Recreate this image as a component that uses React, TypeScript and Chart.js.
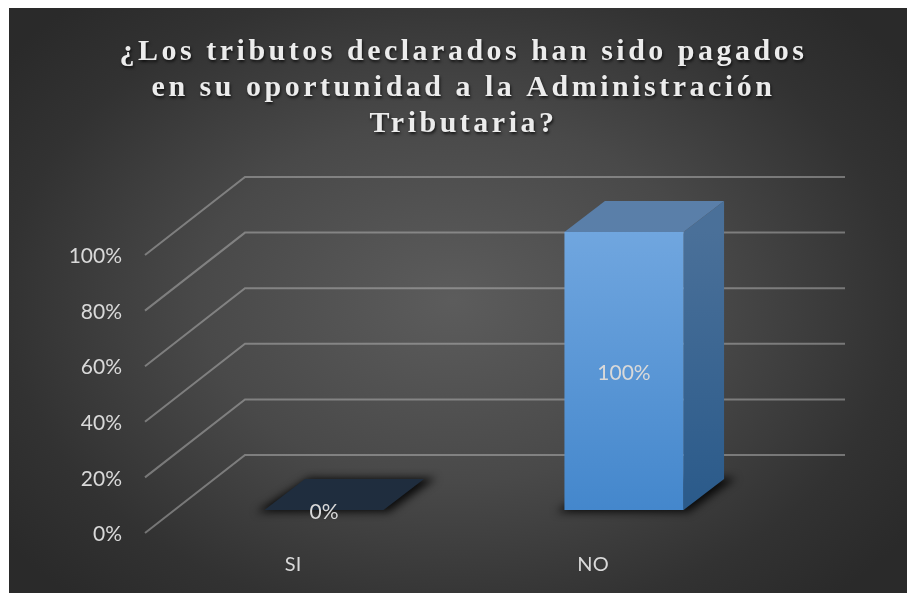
import React, { useEffect, useRef } from "react";
import { Chart, registerables } from "chart.js";

Chart.register(...registerables);

const titleLines = [
  "¿Los tributos declarados han sido pagados",
  "en su oportunidad a la Administración",
  "Tributaria?",
];
const categories = ["SI", "NO"];
const values = [0, 100];
const yTicks = { min: 0, max: 100, step: 20 };

const WIDTH = 898;
const HEIGHT = 585;
const WALL = { dx: 100, dy: -78 };
const SHIFT = { dx: 29, dy: -23 };
const DEPTH = { dx: 40.5, dy: -31 };
const FONT = "Lato";
const TEXT = "#d9d9d9";

function poly(ctx: CanvasRenderingContext2D, pts: number[][], fill: any) {
  ctx.beginPath();
  pts.forEach((p, i) => (i ? ctx.lineTo(p[0], p[1]) : ctx.moveTo(p[0], p[1])));
  ctx.closePath();
  ctx.fillStyle = fill;
  ctx.fill();
}

const backgroundPlugin = {
  id: "bg",
  beforeDraw(chart: any) {
    const { ctx, width, height } = chart;
    ctx.save();
    ctx.translate(width / 2 - 5, height / 2);
    ctx.scale(1, 0.72);
    const g = ctx.createRadialGradient(0, 0, 0, 0, 0, 560);
    g.addColorStop(0, "#5c5c5c");
    g.addColorStop(0.45, "#494949");
    g.addColorStop(0.8, "#323232");
    g.addColorStop(1, "#2a2a2a");
    ctx.fillStyle = g;
    ctx.fillRect(-width, -height * 2, width * 2, height * 4);
    ctx.restore();
  },
};

const titleLayoutPlugin = {
  id: "titleLayout",
  afterLayout(chart: any) {
    const t = chart.titleBlock;
    if (!t) return;
    t.left = 0;
    t.right = 909;
    if (!t.__wrapped) {
      t.__wrapped = true;
      const orig = t.draw.bind(t);
      t.draw = () => {
        const c = chart.ctx;
        c.save();
        c.letterSpacing = "3.5px";
        c.shadowColor = "rgba(0,0,0,0.7)";
        c.shadowBlur = 3;
        c.shadowOffsetX = 1;
        c.shadowOffsetY = 2;
        orig();
        c.restore();
      };
    }
  },
};

const wallPlugin = {
  id: "wall",
  beforeDatasetsDraw(chart: any) {
    const { ctx, chartArea, scales } = chart;
    ctx.save();
    ctx.strokeStyle = "rgba(190,190,190,0.48)";
    ctx.lineWidth = 2;
    scales.y.ticks.forEach((t: any) => {
      const y = scales.y.getPixelForValue(t.value);
      ctx.beginPath();
      ctx.moveTo(chartArea.left, y);
      ctx.lineTo(chartArea.left + WALL.dx, y + WALL.dy);
      ctx.lineTo(chartArea.right + WALL.dx, y + WALL.dy);
      ctx.stroke();
    });
    ctx.restore();
    // contact shadows on the floor
    const meta = chart.getDatasetMeta(0);
    ctx.save();
    ctx.filter = "blur(4px)";
    meta.data.forEach((b: any) => {
      const l = b.x - b.width / 2 + SHIFT.dx;
      const r = b.x + b.width / 2 + SHIFT.dx;
      const base = b.base + SHIFT.dy;
      poly(
        ctx,
        [
          [l - 8, base + 2],
          [r + 5, base + 2],
          [r + DEPTH.dx + 12, base + DEPTH.dy - 1],
          [l + DEPTH.dx + 4, base + DEPTH.dy - 1],
        ],
        "rgba(0,0,0,0.85)"
      );
    });
    ctx.restore();
  },
};

const barDepthPlugin = {
  id: "barDepth",
  beforeDatasetDraw(chart: any, args: any) {
    const { ctx } = chart;
    const meta = chart.getDatasetMeta(args.index);
    ctx.save();
    ctx.translate(SHIFT.dx, SHIFT.dy);
    meta.data.forEach((b: any, i: number) => {
      const l = b.x - b.width / 2;
      const r = b.x + b.width / 2;
      const top = b.y;
      const base = b.base;
      const d = DEPTH;
      if (values[i] > 0) {
        const g = ctx.createLinearGradient(0, top, 0, base);
        g.addColorStop(0, "#4a7099");
        g.addColorStop(1, "#2a5a8a");
        poly(ctx, [[r, top], [r + d.dx, top + d.dy], [r + d.dx, base + d.dy], [r, base]], g);
        poly(ctx, [[l, top], [r, top], [r + d.dx, top + d.dy], [l + d.dx, top + d.dy]], "#5a7fa9");
      } else {
        poly(ctx, [[l, top], [r, top], [r + d.dx, top + d.dy], [l + d.dx, top + d.dy]], "#1f2d3e");
      }
    });
  },
  afterDatasetDraw(chart: any) {
    chart.ctx.restore();
  },
};

const labelPlugin = {
  id: "barLabels",
  afterDatasetsDraw(chart: any) {
    const { ctx } = chart;
    const meta = chart.getDatasetMeta(0);
    ctx.save();
    ctx.font = `21px ${FONT}`;
    ctx.fillStyle = TEXT;
    ctx.textAlign = "center";
    ctx.textBaseline = "middle";
    meta.data.forEach((b: any, i: number) => {
      const y = (b.y + b.base) / 2 + SHIFT.dy;
      ctx.fillText(`${values[i]}%`, b.x + SHIFT.dx, y + 2);
    });
    ctx.restore();
  },
};

export default function App() {
  const ref = useRef<HTMLCanvasElement>(null);
  useEffect(() => {
    const chart = new Chart(ref.current!, {
      type: "bar",
      data: {
        labels: categories,
        datasets: [
          {
            data: values,
            clip: false,
            barPercentage: 0.397,
            categoryPercentage: 1,
            borderWidth: 0,
            backgroundColor: (c: any) => {
              const area = c.chart.chartArea;
              if (!area) return "#5b9bd5";
              const g = c.chart.ctx.createLinearGradient(0, area.top, 0, area.bottom);
              g.addColorStop(0, "#70a6df");
              g.addColorStop(1, "#4487cc");
              return g;
            },
          } as any,
        ],
      },
      options: {
        animation: false,
        responsive: false,
        layout: { padding: { left: 0, right: 162, top: 0, bottom: 0 } },
        plugins: {
          legend: { display: false },
          tooltip: { enabled: false },
          title: {
            display: true,
            text: titleLines,
            color: "#ececec",
            font: { family: "Liberation Serif", size: 30, weight: "bold", lineHeight: 1.2 },
            padding: { top: 26, bottom: 113 },
          },
        },
        scales: {
          x: {
            grid: { display: false, drawTicks: false },
            border: { display: false },
            ticks: { color: TEXT, font: { family: FONT, size: 20 }, padding: 20, maxRotation: 0, labelOffset: -2 },
            afterFit: (s: any) => {
              s.height = 60;
            },
          },
          y: {
            min: yTicks.min,
            max: yTicks.max,
            grid: { display: false, drawTicks: false },
            border: { display: false },
            ticks: {
              stepSize: yTicks.step,
              color: TEXT,
              font: { family: FONT, size: 21 },
              padding: 23,
              labelOffset: 1.5,
              callback: (v: any) => `${v}%`,
            },
            afterFit: (s: any) => {
              s.width = 136;
            },
          },
        },
      },
      plugins: [backgroundPlugin, titleLayoutPlugin, wallPlugin, barDepthPlugin, labelPlugin],
    } as any);
    return () => chart.destroy();
  }, []);
  return (
    <canvas
      ref={ref}
      width={WIDTH}
      height={HEIGHT}
      style={{ position: "fixed", left: 9, top: 8, width: WIDTH, height: HEIGHT, display: "block" }}
    />
  );
}
